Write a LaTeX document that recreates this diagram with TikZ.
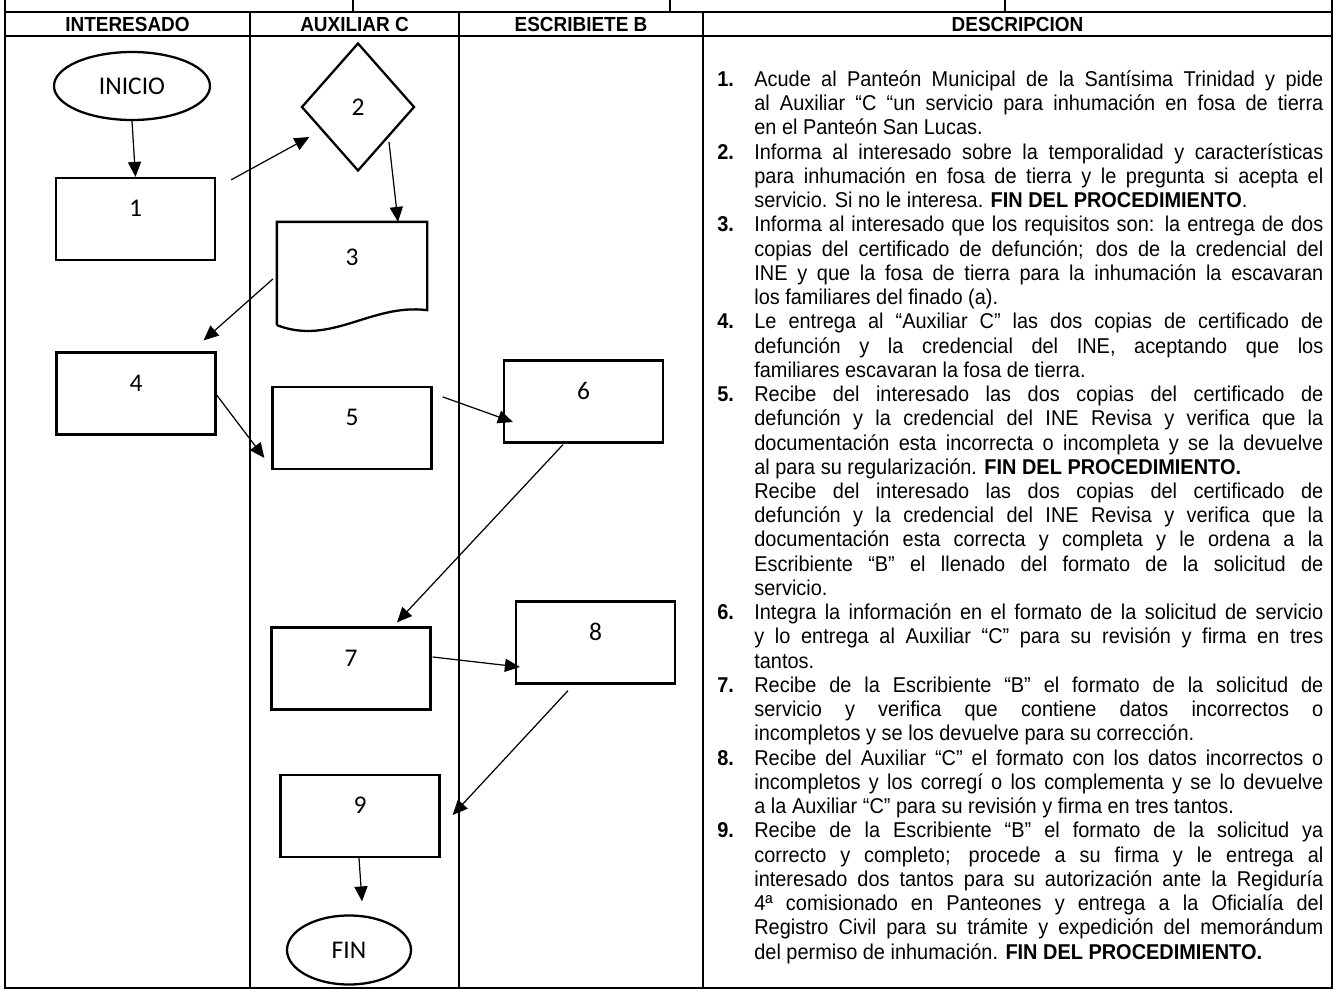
\documentclass[tikz,border=0pt]{standalone}
\usepackage{fontspec}
\setmainfont{Liberation Sans}
\newfontfamily\boxfont{Carlito}
\newfontfamily\descfont{Liberation Sans}[FakeStretch=0.93]
\usetikzlibrary{shapes.geometric, arrows.meta}
\newlength\px
\setlength\px{0.02cm}
\newcommand\itm[1]{\noindent\strut\llap{\makebox[37\px][l]{\textbf{#1}}}}

\tikzset{
  lane/.style={line width=0.75pt},
  head/.style={font=\descfont\fontsize{11.6}{13}\selectfont\bfseries},
  shapeline/.style={draw, line width=1.3pt},
  stepbox/.style={shapeline, rectangle, minimum width=159\px, minimum height=82\px,
    font=\boxfont\fontsize{14.5}{16}\selectfont, text height=16\px, text depth=21\px},
  term/.style={shapeline, ellipse, inner sep=0pt, font=\boxfont\fontsize{14.5}{16}\selectfont},
  decide/.style={shapeline, diamond, inner sep=0pt, minimum width=113\px, minimum height=128\px,
    font=\boxfont\fontsize{14.5}{16}\selectfont},
  flow/.style={line width=0.7pt, -{Triangle[length=8.5pt,width=7.5pt]}},
}

\begin{document}
\begin{tikzpicture}[x=0.02cm, y=-0.02cm]
\useasboundingbox (0,0) rectangle (1333,990);

% Table frame (pixel units, y downwards)
\def\xL{5}
\def\xR{1332}
\def\yTop{12}
\def\yHead{36}
\def\yBot{988}

\draw[lane] (\xL,0) -- (\xL,\yBot) -- (\xR,\yBot) -- (\xR,0);
\draw[lane] (\xL,\yTop) -- (\xR,\yTop);
\draw[lane] (\xL,\yHead) -- (\xR,\yHead);
\foreach \x in {353,670,1005} {
  \draw[lane] (\x,0) -- (\x,\yTop);
}
% Lane dividers
\foreach \x in {250,459,703} {
  \draw[lane] (\x,\yTop) -- (\x,\yBot);
}

% Lane headers
\node[head] (hInt) at (127.5,24) {INTERESADO};
\node[head] (hAux) at (354.5,24) {AUXILIAR C};
\node[head] (hEsc) at (581,24) {ESCRIBIETE B};
\node[head] (hDes) at (1017.5,24) {DESCRIPCION};

% Flow shapes
\node[term, minimum width=156\px, minimum height=68\px] (ini) at (132,86) {INICIO};
\node[stepbox] (n1) at (135.5,219) {1};
\node[decide] (n2) at (358,107) {2};
\node[stepbox, draw=none, minimum width=148\px, minimum height=101\px, text depth=33\px] (n3) at (352,273.5) {3};
\node[stepbox] (n4) at (136,393.5) {4};
\node[stepbox] (n5) at (352,428) {5};
\node[stepbox] (n6) at (583.5,401.5) {6};
\node[stepbox] (n7) at (351,668.5) {7};
\node[stepbox] (n8) at (595.5,642.5) {8};
\node[stepbox] (n9) at (360,816) {9};
\node[term, minimum width=124\px, minimum height=69\px] (fin) at (349,950) {FIN};

% Document outline of step 3 (wavy bottom)
\draw[line width=1.3pt] (n3.south west) -- (n3.north west) -- (n3.north east)
  -- ([shift={(0,-15)}]n3.south east)
  .. controls ([shift={(-56,-22)}]n3.south east) and ([shift={(-96,21)}]n3.south east) .. (n3.south west);

% Connectors
\draw[flow] (ini.south) -- (n1.north);
\draw[flow] ([shift={(15,3)}]n1.north east) -- ([shift={(9,30)}]n2.west);
\draw[flow] ([shift={(31,35)}]n2.center) -- ([shift={(46,0)}]n3.north);
\draw[flow] ([shift={(-4,5.5)}]n3.west) -- ([shift={(-13,-11)}]n4.north east);
\draw[flow] ([shift={(0,1.5)}]n4.east) -- ([shift={(-7,30)}]n5.west);
\draw[flow] ([shift={(10,11)}]n5.north east) -- ([shift={(10,20.5)}]n6.west);
\draw[flow] ([shift={(-20.5,1)}]n6.south) -- ([shift={(46,-4)}]n7.north);
\draw[flow] ([shift={(1,-11.5)}]n7.east) -- ([shift={(5,24.5)}]n8.west);
\draw[flow] ([shift={(-27.5,6)}]n8.south) -- ([shift={(12,-1)}]n9.east);
\draw[flow] ([shift={(-1,0)}]n9.south) -- ([shift={(13,-13)}]fin.north);

% Description column
\node[anchor=north west, inner sep=0pt, text width=606\px, align=justify,
  font=\descfont\fontsize{12.2}{13.8}\selectfont] (desc) at (717,69) {%
\leftskip=37\px \parindent=0pt \parskip=0pt \tolerance=10000 \hyphenpenalty=10000
\itm{1.}Acude al Panteón Municipal de la Santísima Trinidad y pide\linebreak
al Auxiliar “C “un servicio para inhumación en fosa de tierra\linebreak
en el Panteón San Lucas.\par
\itm{2.}Informa al interesado sobre la temporalidad y características\linebreak
para inhumación en fosa de tierra y le pregunta si acepta el\linebreak
servicio. Si no le interesa. \textbf{FIN DEL PROCEDIMIENTO}.\par
\itm{3.}Informa al interesado que los requisitos son: la entrega de dos\linebreak
copias del certificado de defunción; dos de la credencial del\linebreak
INE y que la fosa de tierra para la inhumación la escavaran\linebreak
los familiares del finado (a).\par
\itm{4.}Le entrega al “Auxiliar C” las dos copias de certificado de\linebreak
defunción y la credencial del INE, aceptando que los\linebreak
familiares escavaran la fosa de tierra.\par
\itm{5.}Recibe del interesado las dos copias del certificado de\linebreak
defunción y la credencial del INE Revisa y verifica que la\linebreak
documentación esta incorrecta o incompleta y se la devuelve\linebreak
al para su regularización. \textbf{FIN DEL PROCEDIMIENTO.}\par
\noindent\strut Recibe del interesado las dos copias del certificado de\linebreak
defunción y la credencial del INE Revisa y verifica que la\linebreak
documentación esta correcta y completa y le ordena a la\linebreak
Escribiente “B” el llenado del formato de la solicitud de\linebreak
servicio.\par
\itm{6.}Integra la información en el formato de la solicitud de servicio\linebreak
y lo entrega al Auxiliar “C” para su revisión y firma en tres\linebreak
tantos.\par
\itm{7.}Recibe de la Escribiente “B” el formato de la solicitud de\linebreak
servicio y verifica que contiene datos incorrectos o\linebreak
incompletos y se los devuelve para su corrección.\par
\itm{8.}Recibe del Auxiliar “C” el formato con los datos incorrectos o\linebreak
incompletos y los corregí o los complementa y se lo devuelve\linebreak
a la Auxiliar “C” para su revisión y firma en tres tantos.\par
\itm{9.}Recibe de la Escribiente “B” el formato de la solicitud ya\linebreak
correcto y completo; procede a su firma y le entrega al\linebreak
interesado dos tantos para su autorización ante la Regiduría\linebreak
4ª comisionado en Panteones y entrega a la Oficialía del\linebreak
Registro Civil para su trámite y expedición del memorándum\linebreak
del permiso de inhumación. \textbf{FIN DEL PROCEDIMIENTO.}\par
};

\end{tikzpicture}
\end{document}
